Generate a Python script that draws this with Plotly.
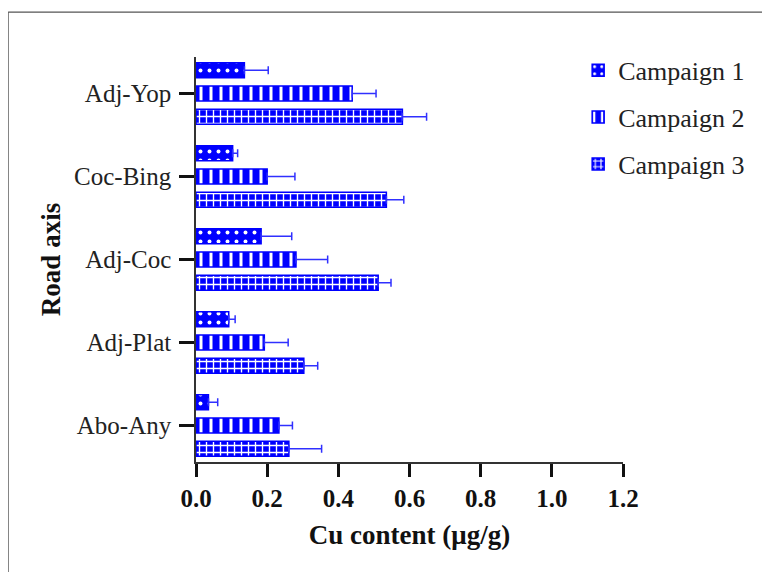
import plotly.graph_objects as go

categories = ["Adj-Yop", "Coc-Bing", "Adj-Coc", "Adj-Plat", "Abo-Any"]
campaign1 = [0.136, 0.103, 0.183, 0.092, 0.035]
campaign1_err = [0.067, 0.014, 0.086, 0.018, 0.026]
campaign2 = [0.439, 0.200, 0.281, 0.192, 0.233]
campaign2_err = [0.067, 0.078, 0.089, 0.067, 0.038]
campaign3 = [0.580, 0.535, 0.512, 0.303, 0.261]
campaign3_err = [0.068, 0.049, 0.036, 0.039, 0.092]
x_ticks = [0.0, 0.2, 0.4, 0.6, 0.8, 1.0, 1.2]
x_tick_labels = ["0.0", "0.2", "0.4", "0.6", "0.8", "1.0", "1.2"]

series = [
    ("Campaign 1", campaign1, campaign1_err, ".", 9, 0.15),
    ("Campaign 2", campaign2, campaign2_err, "|", 10, 0.3),
    ("Campaign 3", campaign3, campaign3_err, "+", 7, 0.35),
]

BLUE = "#0000ff"
SERIF = "Liberation Serif"

fig = go.Figure()
for i, (name, vals, errs, shape, psize, sol) in enumerate(series):
    fig.add_trace(go.Bar(
        name=name, y=categories, x=vals, orientation="h",
        legendgroup=f"g{i}",
        marker=dict(color=BLUE, line=dict(color=BLUE, width=1.5),
                    pattern=dict(shape=shape, bgcolor=BLUE, fgcolor="white",
                                 size=psize, solidity=sol, fillmode="replace")),
        error_x=dict(type="data", array=errs, arrayminus=[0] * len(errs),
                     symmetric=False, color="#3030ff", thickness=1.5, width=4),
    ))

fig.update_layout(
    width=762, height=564,
    margin=dict(l=188, r=147, t=49, b=110),
    paper_bgcolor="white", plot_bgcolor="white",
    barmode="group", bargap=0.16, bargroupgap=0.35,
    font=dict(family=SERIF, color="#111"),
    showlegend=True,
    legend=dict(x=0.895, y=1.025, xanchor="left", yanchor="top",
                font=dict(family=SERIF, size=26, color="#222"),
                tracegroupgap=10, bgcolor="rgba(0,0,0,0)"),
    xaxis=dict(range=[0, 1.2], tickvals=x_ticks, ticktext=x_tick_labels,
               showgrid=False, zeroline=False, showline=True,
               linecolor="#333", linewidth=1.5,
               ticks="outside", ticklen=13, tickwidth=3, tickcolor="#111",
               tickfont=dict(family=SERIF, size=25, color="#111", weight="bold"),
               title=dict(text="<b>Cu content (μg/g)</b>",
                          font=dict(family=SERIF, size=27, color="#111"),
                          standoff=14)),
    yaxis=dict(range=[4.44, -0.44], showgrid=False, zeroline=False,
               showline=True, linecolor="#333", linewidth=1.5,
               ticks="outside", ticklen=15, tickwidth=3, tickcolor="#111",
               tickfont=dict(family=SERIF, size=25, color="#222"),
               ticklabelstandoff=3,
               title=dict(text="<b>Road axis</b>",
                          font=dict(family=SERIF, size=27, color="#111"),
                          standoff=6)),
    shapes=[
        dict(type="line", xref="paper", yref="paper", x0=-0.44, x1=-0.44,
             y0=1.111, y1=-1, line=dict(color="#555", width=1.2)),
        dict(type="line", xref="paper", yref="paper", x0=-0.44, x1=2,
             y0=1.111, y1=1.111, line=dict(color="#555", width=1.2)),
    ],
)

fig.write_html("out.html")
